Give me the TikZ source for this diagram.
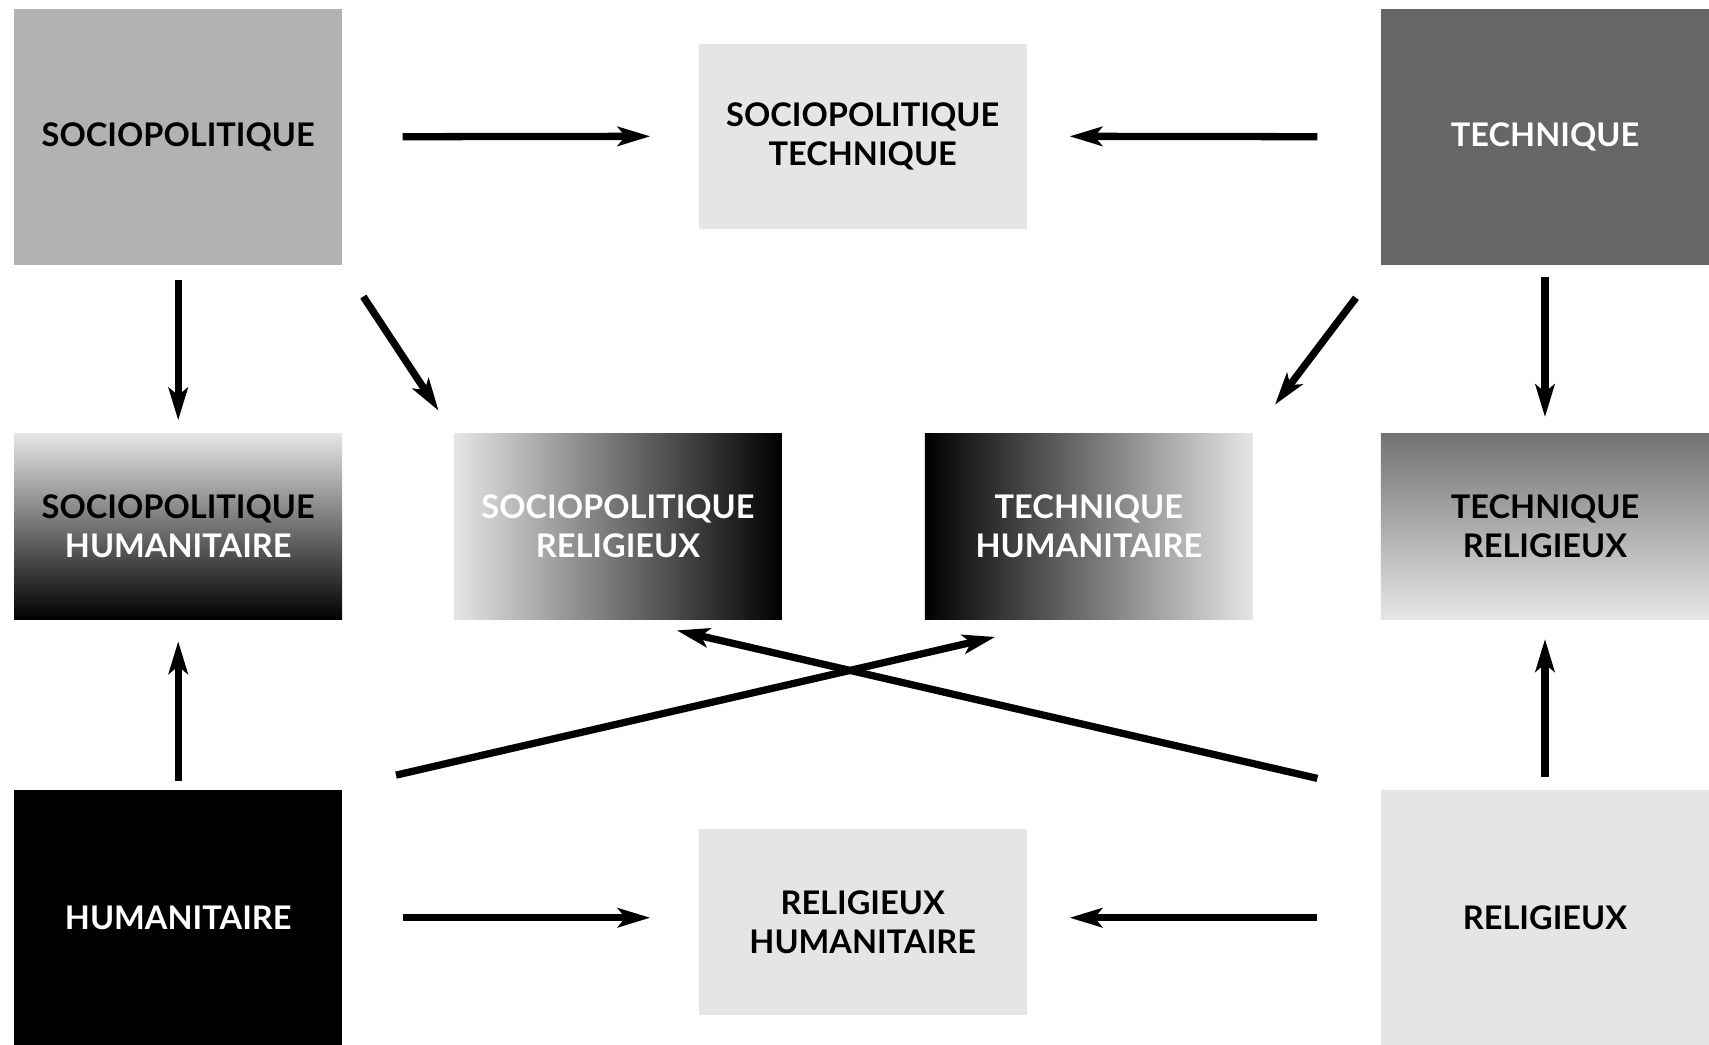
\documentclass[tikz,border=0pt]{standalone}
\usepackage{fontspec}
\setmainfont{Lato}
\usetikzlibrary{arrows.meta,positioning}
\tikzset{
    caja/.style={inner sep=0pt, minimum width=6.02cm, align=center,
        font=\fontsize{17}{20.5}\selectfont\bfseries},
    alta/.style={caja, minimum height=4.7cm},
    baja/.style={caja, minimum height=3.4cm},
    flecha/.style={line width=3.8pt, -{Stealth[length=17pt,width=10pt,inset=4pt]}}
}

\begin{document}
\begin{tikzpicture}[x=0.02cm,y=-0.02cm]
    \useasboundingbox (0,0) rectangle (1568,958);

    \node[alta, fill=black!30] (SP) at (163.5,125.5) {SOCIOPOLITIQUE};
    \node[baja, fill=black!10] (SPT) at (791.5,125) {SOCIOPOLITIQUE\\TECHNIQUE};
    \node[alta, fill=black!60, text=white] (T) at (1417.5,125.5) {TECHNIQUE};

    \node[baja, top color=black!10, bottom color=black] (SPH) at (163.5,483)
        {SOCIOPOLITIQUE\\\textcolor{white}{HUMANITAIRE}};
    \node[baja, left color=black!10, right color=black, text=white] (SPR) at (567,483)
        {SOCIOPOLITIQUE\\RELIGIEUX};
    \node[baja, left color=black, right color=black!10, text=white] (TH) at (999,483)
        {TECHNIQUE\\HUMANITAIRE};
    \node[baja, top color=black!55, bottom color=black!10] (TR) at (1417.5,483)
        {TECHNIQUE\\RELIGIEUX};

    \node[alta, fill=black, text=white] (H) at (163.5,842) {HUMANITAIRE};
    \node[baja, fill=black!10] (RH) at (791.5,846) {RELIGIEUX\\HUMANITAIRE};
    \node[alta, fill=black!10] (R) at (1417.5,842) {RELIGIEUX};

    \draw[flecha, shorten <=1.1cm, shorten >=0.88cm] (SP.east) -- (SPT.west);
    \draw[flecha, shorten <=1.16cm, shorten >=0.78cm] (T.west) -- (SPT.east);
    \draw[flecha, shorten <=0.28cm, shorten >=0.24cm] (SP.south) -- (SPH.north);
    \draw[flecha, shorten <=0.69cm, shorten >=0.5cm] (SP.south east) -- (SPR.north west);
    \draw[flecha, shorten <=0.75cm, shorten >=0.66cm] (T.south west) -- (TH.north east);
    \draw[flecha, shorten <=0.22cm, shorten >=0.3cm] (T.south) -- (TR.north);
    \draw[flecha, shorten <=0.16cm, shorten >=0.4cm] (H.north) -- (SPH.south);
    \draw[flecha, shorten <=0.22cm, shorten >=0.36cm] (R.north) -- (TR.south);
    \draw[flecha] ([shift={(49,-13)}]H.north east) -- ([shift={(65,16)}]TH.south west);
    \draw[flecha] ([shift={(-58,-10)}]R.north west) -- ([shift={(-97,10)}]SPR.south east);
    \draw[flecha, shorten <=1.1cm, shorten >=0.88cm] (H.east) -- (H.east -| RH.west);
    \draw[flecha, shorten <=1.16cm, shorten >=0.78cm] (R.west) -- (R.west -| RH.east);
\end{tikzpicture}
\end{document}
